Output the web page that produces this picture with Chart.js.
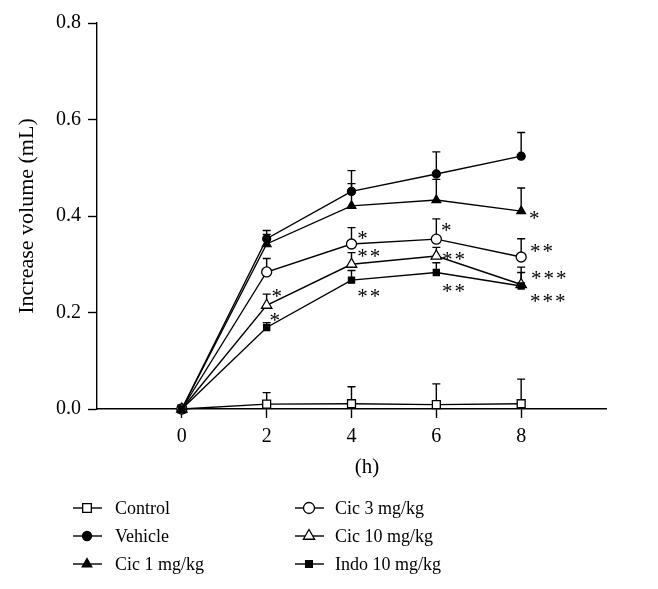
<!DOCTYPE html>
<html>
<head>
<meta charset="utf-8">
<script src="https://cdn.jsdelivr.net/npm/chart.js@4/dist/chart.umd.min.js"></script>
<style>
  html, body { margin: 0; padding: 0; background: #fff; }
  #wrap { width: 658px; height: 589px; position: relative; }
</style>
</head>
<body>
<div id="wrap"><canvas id="c" width="658" height="589"></canvas></div>
<script>
// ---- data ----
const hours = [0, 2, 4, 6, 8];
const seriesNames = ['Control', 'Vehicle', 'Cic 1 mg/kg', 'Cic 3 mg/kg', 'Cic 10 mg/kg', 'Indo 10 mg/kg'];

const controlMean = [0, 0.010, 0.011, 0.009, 0.011];
const controlErr  = [0, 0.024, 0.035, 0.043, 0.051];

const vehicleMean = [0, 0.353, 0.451, 0.487, 0.524];
const vehicleErr  = [0, 0.017, 0.043, 0.046, 0.049];

const cic1Mean = [0, 0.342, 0.421, 0.433, 0.410];
const cic1Err  = [0, 0.020, 0.046, 0.043, 0.048];

const cic3Mean = [0, 0.284, 0.342, 0.352, 0.315];
const cic3Err  = [0, 0.028, 0.034, 0.042, 0.038];

const cic10Mean = [0, 0.215, 0.300, 0.317, 0.258];
const cic10Err  = [0, 0.023, 0.024, 0.018, 0.036];

const indoMean = [0, 0.169, 0.267, 0.283, 0.255];
const indoErr  = [0, 0.010, 0.020, 0.020, 0.028];

const yTicks = [0, 0.2, 0.4, 0.6, 0.8];

// significance marks: series, hour, text
const sigSeries = ['Cic 1 mg/kg', 'Cic 3 mg/kg', 'Cic 3 mg/kg', 'Cic 3 mg/kg', 'Cic 10 mg/kg', 'Cic 10 mg/kg', 'Cic 10 mg/kg', 'Cic 10 mg/kg', 'Indo 10 mg/kg', 'Indo 10 mg/kg', 'Indo 10 mg/kg', 'Indo 10 mg/kg'];
const sigHours  = [8, 4, 6, 8, 2, 4, 6, 8, 2, 4, 6, 8];
const sigText   = ['*', '*', '*', '**', '*', '**', '**', '***', '*', '**', '**', '***'];
// ---- styling (offsets in pixels from the marked point) ----
const sigDx = [13, 11, 10, 14, 10, 11, 11, 15, 8, 11, 11, 14];
const sigDy = [3, -9, -13, -10, -13, -12, -1, -10, -11, 12, 15, 12];

const FONT = "'Liberation Serif', 'Times New Roman', serif";
Chart.defaults.font.family = FONT;
Chart.defaults.color = '#000';

const styles = {
  'Control':       { pointStyle: 'rect',     radius: 5.6, fill: '#fff' },
  'Vehicle':       { pointStyle: 'circle',   radius: 4,   fill: '#000' },
  'Cic 1 mg/kg':   { pointStyle: 'triangle', radius: 5,   fill: '#000' },
  'Cic 3 mg/kg':   { pointStyle: 'circle',   radius: 5,   fill: '#fff' },
  'Cic 10 mg/kg':  { pointStyle: 'triangle', radius: 6,   fill: '#fff' },
  'Indo 10 mg/kg': { pointStyle: 'rect',     radius: 4.3, fill: '#000' }
};
const means = [controlMean, vehicleMean, cic1Mean, cic3Mean, cic10Mean, indoMean];
const errs  = [controlErr, vehicleErr, cic1Err, cic3Err, cic10Err, indoErr];

const datasets = seriesNames.map((name, i) => ({
  label: name,
  data: hours.map((h, k) => ({ x: h, y: means[i][k] })),
  errors: errs[i],
  order: seriesNames.length - i,
  borderColor: '#000',
  borderWidth: 1.4,
  backgroundColor: styles[name].fill,
  pointStyle: styles[name].pointStyle,
  pointRadius: styles[name].radius,
  pointBackgroundColor: styles[name].fill,
  pointBorderColor: '#000',
  pointBorderWidth: 1.3,
  tension: 0,
  clip: false
}));

const errorBarPlugin = {
  id: 'errorBars',
  beforeDatasetsDraw(chart) {
    const ctx = chart.ctx;
    const yScale = chart.scales.y;
    ctx.save();
    ctx.strokeStyle = '#000';
    ctx.lineWidth = 1.4;
    chart.data.datasets.forEach((ds, di) => {
      const meta = chart.getDatasetMeta(di);
      meta.data.forEach((pt, k) => {
        const e = ds.errors[k];
        if (!e) return;
        const yTop = yScale.getPixelForValue(ds.data[k].y + e);
        ctx.beginPath();
        ctx.moveTo(pt.x, pt.y);
        ctx.lineTo(pt.x, yTop);
        ctx.moveTo(pt.x - 4, yTop);
        ctx.lineTo(pt.x + 4, yTop);
        ctx.stroke();
      });
    });
    ctx.restore();
  }
};

const extrasPlugin = {
  id: 'extras',
  afterDraw(chart) {
    const ctx = chart.ctx;
    ctx.save();
    // significance stars
    ctx.fillStyle = '#000';
    ctx.font = '21px ' + FONT;
    ctx.textAlign = 'center';
    ctx.textBaseline = 'alphabetic';
    sigSeries.forEach((s, i) => {
      const di = seriesNames.indexOf(s);
      const k = hours.indexOf(sigHours[i]);
      const pt = chart.getDatasetMeta(di).data[k];
      for (let j = 0; j < sigText[i].length; j++) {
        ctx.fillText('*', pt.x + sigDx[i] + j * 12.5, pt.y + sigDy[i] + 10.5);
      }
    });
    // x-axis title
    ctx.font = '21px ' + FONT;
    ctx.textBaseline = 'middle';
    ctx.fillText('(h)', 367, 467);
    // legend
    const cols = [{ lx0: 73, lx1: 102, mx: 87, tx: 115 }, { lx0: 295, lx1: 324, mx: 309, tx: 335 }];
    const rows = [508, 536, 564];
    ctx.font = '18px ' + FONT;
    ctx.textAlign = 'left';
    seriesNames.forEach((name, i) => {
      const c = cols[Math.floor(i / 3)];
      const y = rows[i % 3];
      ctx.strokeStyle = '#000';
      ctx.lineWidth = 1.4;
      ctx.beginPath();
      ctx.moveTo(c.lx0, y);
      ctx.lineTo(c.lx1, y);
      ctx.stroke();
      ctx.fillStyle = styles[name].fill;
      ctx.lineWidth = 1.3;
      Chart.helpers.drawPoint(ctx, { pointStyle: styles[name].pointStyle, radius: styles[name].radius + 0.5, rotation: 0, borderWidth: 1.3 }, c.mx, y);
      ctx.fillStyle = '#000';
      ctx.fillText(name, c.tx, y + 1);
    });
    ctx.restore();
  }
};

new Chart(document.getElementById('c'), {
  type: 'line',
  data: { datasets },
  options: {
    responsive: false,
    animation: false,
    events: [],
    layout: { padding: { top: 23, right: 52, bottom: 110, left: 0 } },
    plugins: { legend: { display: false }, tooltip: { enabled: false } },
    scales: {
      x: {
        type: 'linear',
        min: -2,
        max: 10,
        afterBuildTicks: (s) => { s.ticks = hours.map(v => ({ value: v })); },
        afterFit: (s) => { s.height = 70; },
        ticks: { font: { size: 20 }, padding: 7, color: '#000' },
        grid: { drawOnChartArea: false, drawTicks: true, tickLength: 9, color: '#000', tickWidth: 1.4 },
        border: { display: true, color: '#000', width: 1.4 }
      },
      y: {
        min: 0,
        max: 0.8,
        afterBuildTicks: (s) => { s.ticks = yTicks.map(v => ({ value: v })); },
        afterFit: (s) => { s.width = 97; },
        ticks: { font: { size: 20 }, padding: 7, color: '#000', callback: (v) => Number(v).toFixed(1) },
        grid: { drawOnChartArea: false, drawTicks: true, tickLength: 9, color: '#000', tickWidth: 1.4 },
        border: { display: true, color: '#000', width: 1.4 },
        title: { display: true, text: 'Increase volume (mL)', font: { size: 22 }, padding: { top: 14, bottom: 0 }, color: '#000' }
      }
    }
  },
  plugins: [errorBarPlugin, extrasPlugin]
});
</script>
</body>
</html>
